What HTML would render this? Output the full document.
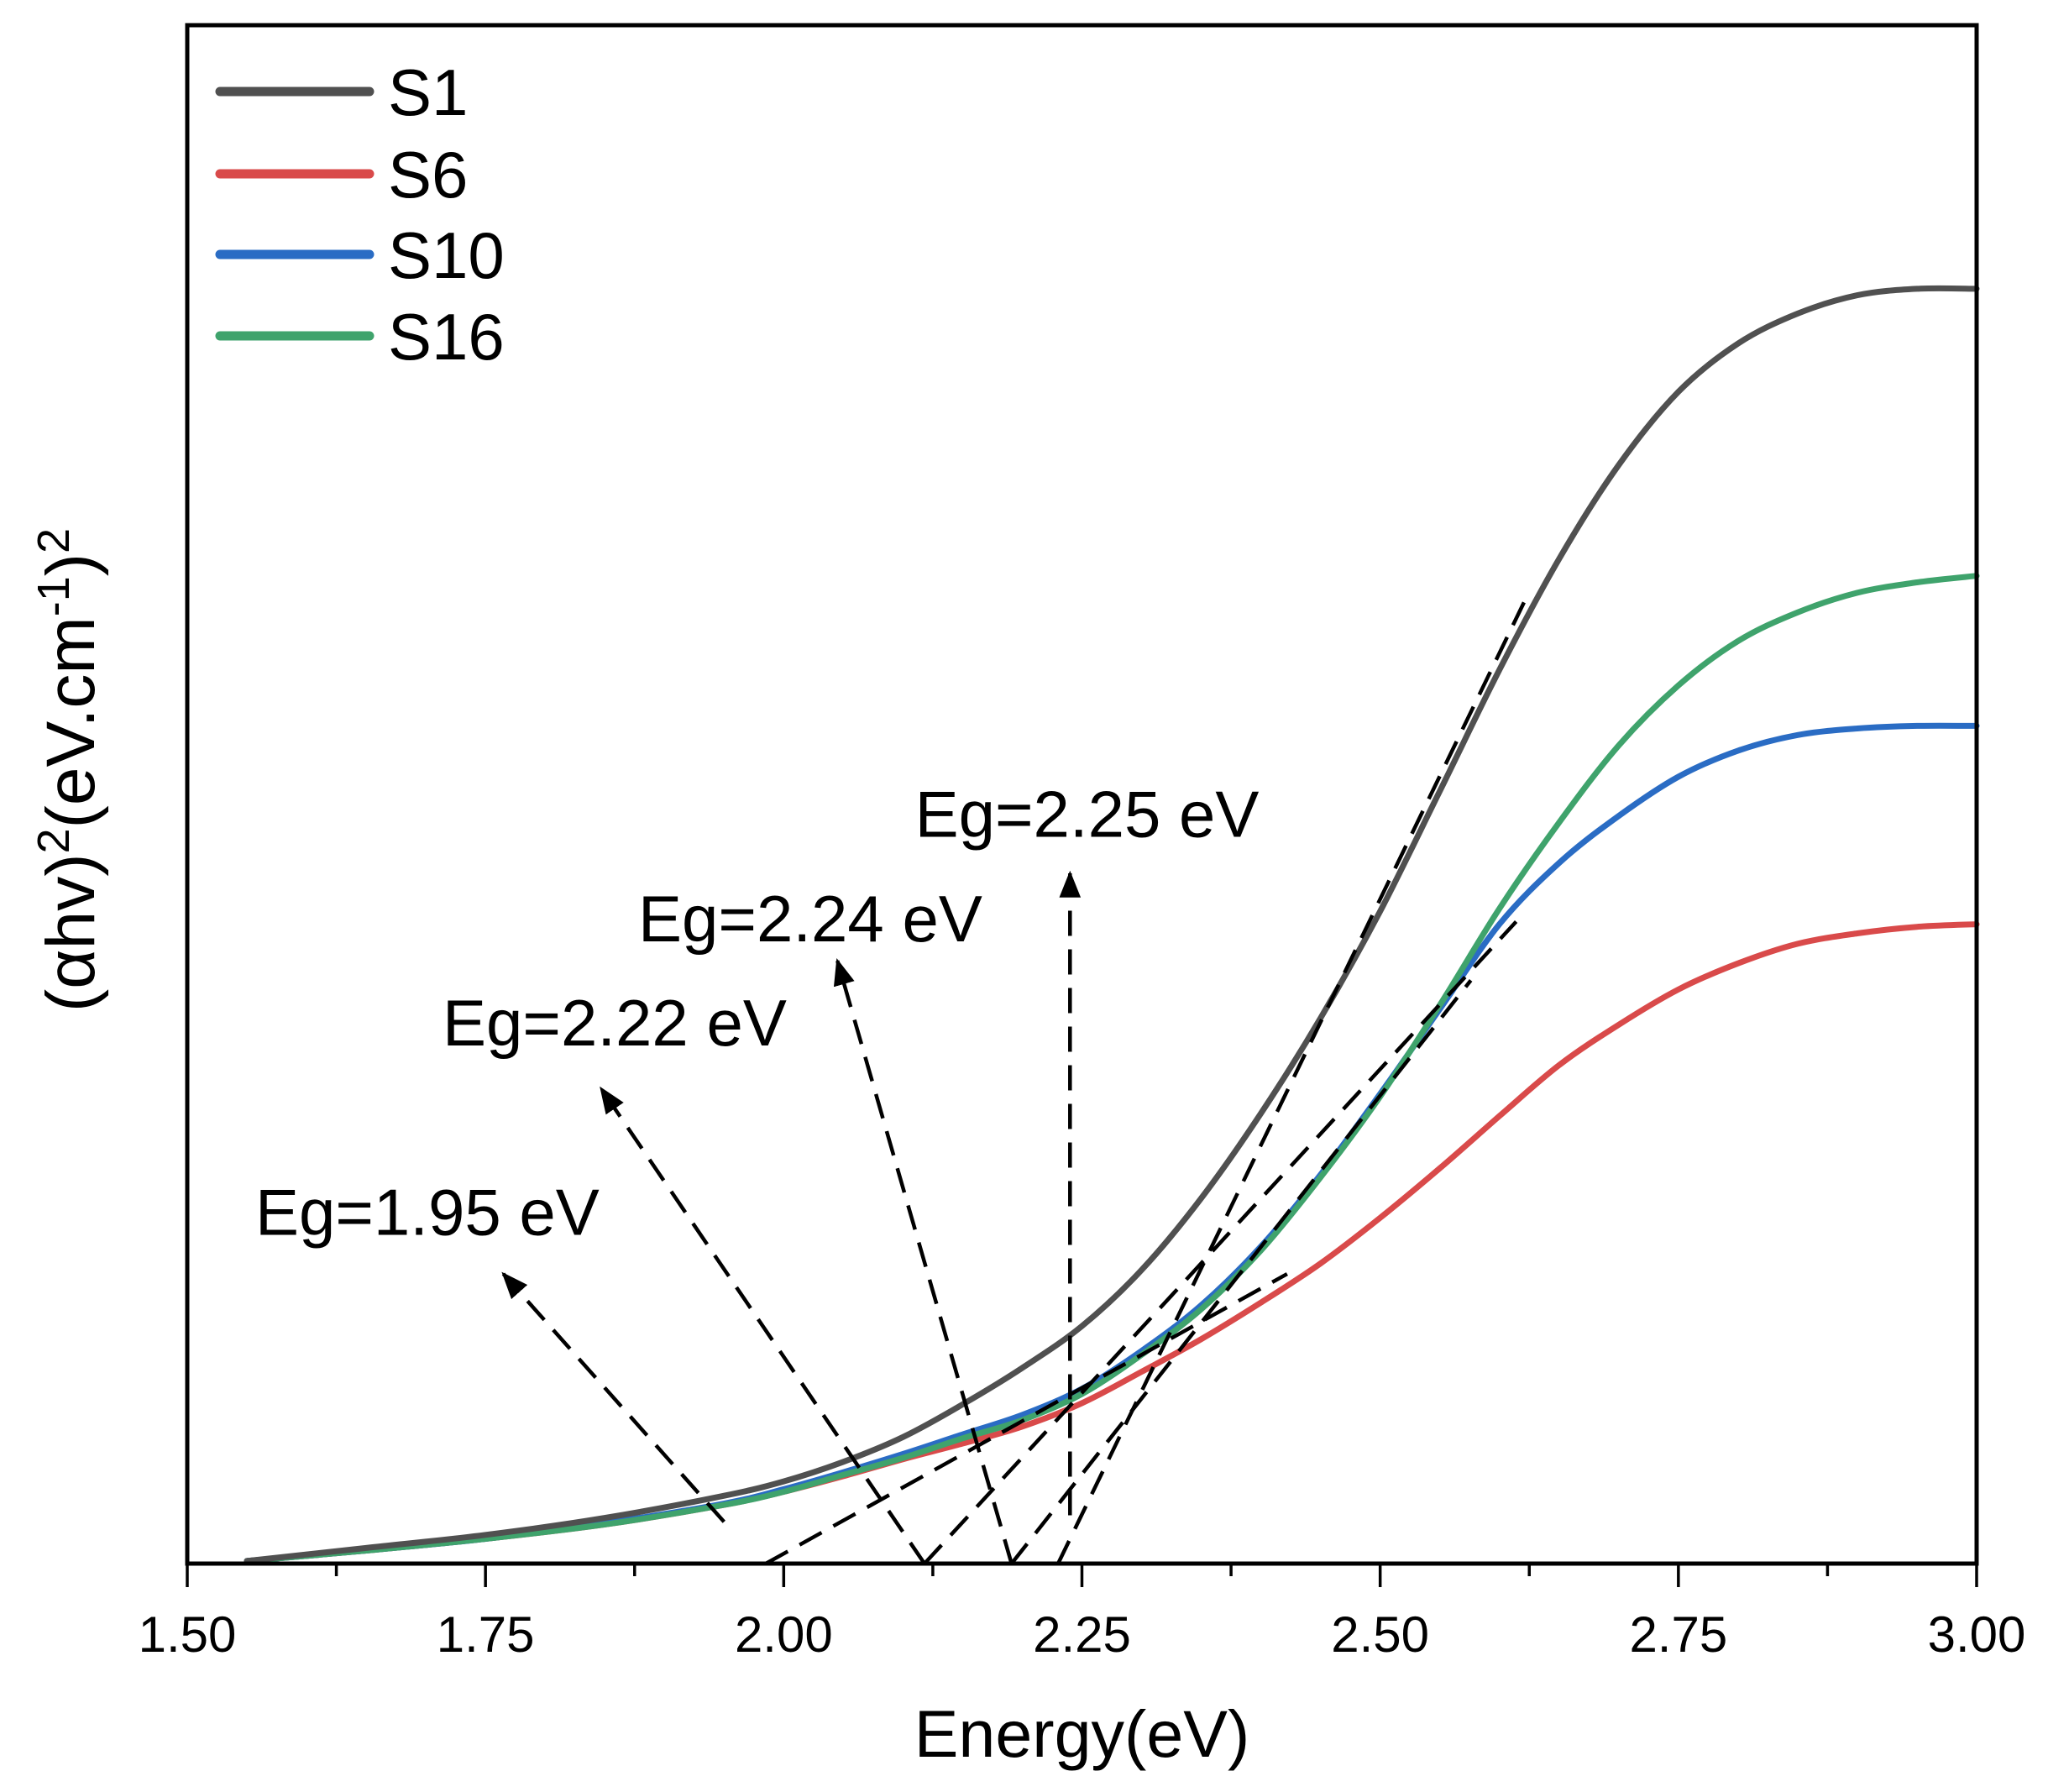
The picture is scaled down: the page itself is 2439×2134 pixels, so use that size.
<!DOCTYPE html>
<html><head><meta charset="utf-8"><style>
html,body{margin:0;padding:0;background:#fff;}
svg{display:block;font-family:"Liberation Sans",Arial,sans-serif;}
</style></head><body>
<svg id="chart" width="2439" height="2134" viewBox="0 0 2439 2134" xmlns="http://www.w3.org/2000/svg"></svg>
<script>
const energies=[1.55,1.65,1.75,1.85,1.95,2.0,2.05,2.1,2.15,2.2,2.25,2.3,2.35,2.4,2.45,2.5,2.55,2.6,2.65,2.7,2.75,2.8,2.85,2.9,2.95,3.0];
const s1=[2,12,22,35,52,63,78,97,122,150,182,225,280,345,418,500,592,685,770,842,898,935,958,972,977,977];
const s6=[2,10,19,30,45,55,67,80,92,105,123,147,172,200,230,265,303,343,382,413,440,460,475,483,488,490];
const s10=[2,10,19,31,46,57,70,84,99,114,134,163,198,243,298,360,425,490,537,573,603,623,635,640,642,642];
const s16=[2,10,19,30,45,55,68,81,96,110,130,160,195,240,296,358,428,502,568,627,673,707,729,744,752,757];
const seriesNames=["S1","S6","S10","S16"];
const seriesColors=["#505050","#d94a4a","#2a6cc4","#3fa36c"];
const xTicks=[1.5,1.75,2.0,2.25,2.5,2.75,3.0];
const xTickLabels=["1.50","1.75","2.00","2.25","2.50","2.75","3.00"];
const tangentLines=[[1.985,0,2.422,222],[2.118,0,2.614,492],[2.191,0,2.576,447],[2.23,0,2.625,745]];
const arrowLines=[[1.95,32,1.765,222],[2.118,0,1.847,364],[2.191,0,2.045,462],[2.24,37,2.24,529]];
const egLabels=["Eg=1.95 eV","Eg=2.22 eV","Eg=2.24 eV","Eg=2.25 eV"];
const egLabelPos=[[1.557,252],[1.714,397],[1.878,477],[2.11,557]];

const L=223,R=2354,T=30,B=1862,YMAX=1179;
const xs=e=>L+(e-1.5)/1.5*(R-L);
const ys=v=>B-v/YMAX*(B-T);
const svg=document.getElementById('chart');
const NS="http://www.w3.org/2000/svg";
function mk(tag,attrs,parent){const el=document.createElementNS(NS,tag);for(const k in attrs)el.setAttribute(k,attrs[k]);(parent||svg).appendChild(el);return el;}
function smooth(pts){
  let d='M'+pts[0][0].toFixed(1)+','+pts[0][1].toFixed(1);
  for(let i=0;i<pts.length-1;i++){
    const p0=pts[i-1]||pts[i],p1=pts[i],p2=pts[i+1],p3=pts[i+2]||p2;
    const c1=[p1[0]+(p2[0]-p0[0])/6,p1[1]+(p2[1]-p0[1])/6];
    const c2=[p2[0]-(p3[0]-p1[0])/6,p2[1]-(p3[1]-p1[1])/6];
    d+=' C'+c1[0].toFixed(1)+','+c1[1].toFixed(1)+' '+c2[0].toFixed(1)+','+c2[1].toFixed(1)+' '+p2[0].toFixed(1)+','+p2[1].toFixed(1);
  }
  return d;
}
const data=[s1,s6,s10,s16];
[1,2,3,0].forEach(i=>{
  const pts=data[i].map((v,j)=>[xs(energies[j]),ys(v)]);
  const p=mk('path',{d:smooth(pts),fill:'none',stroke:seriesColors[i],'stroke-width':7,'stroke-linejoin':'round','stroke-linecap':'round'});
  
  
});
tangentLines.forEach((t,i)=>{
  const l=mk('line',{x1:xs(t[0]),y1:ys(t[1]),x2:xs(t[2]),y2:ys(t[3]),stroke:'#000','stroke-width':4.5,'stroke-dasharray':'30,16'});
  
  
});
mk('defs',{}).innerHTML='<marker id="ah" markerWidth="32" markerHeight="26" refX="9" refY="4" orient="auto" markerUnits="userSpaceOnUse" viewBox="0 0 10 8"><path d="M0,0 L10,4 L0,8 Z" fill="#000"/></marker>';
arrowLines.forEach((a,i)=>{
  const l=mk('line',{x1:xs(a[0]),y1:ys(a[1]),x2:xs(a[2]),y2:ys(a[3]),stroke:'#000','stroke-width':4.5,'stroke-dasharray':'30,16','marker-end':'url(#ah)'});
  
  
});
egLabels.forEach((t,i)=>{
  const tx=mk('text',{x:xs(egLabelPos[i][0]),y:ys(egLabelPos[i][1]),'font-size':78,fill:'#000'});
  tx.textContent=t;
  
  
});
const fr=mk('rect',{x:L,y:T,width:R-L,height:B-T,fill:'none',stroke:'#000','stroke-width':5});


for(let k=0;k<=12;k++){
  const e=1.5+k*0.125;const major=k%2===0;
  const tk=mk('line',{x1:xs(e),y1:B,x2:xs(e),y2:B+(major?28:15),stroke:'#000','stroke-width':3.5});
  
  
}
xTicks.forEach((e,i)=>{
  const tx=mk('text',{x:xs(e),y:1967,'font-size':60,'text-anchor':'middle',fill:'#000'});
  tx.textContent=xTickLabels[i];
  
  
});
const xt=mk('text',{x:(L+R)/2,y:2092,'font-size':79,'text-anchor':'middle',fill:'#000'});
xt.textContent='Energy(eV)';


const yt=mk('text',{x:0,y:0,'font-size':82,'text-anchor':'middle',fill:'#000',transform:'translate(112,917) rotate(-90)'});
yt.innerHTML='(αhv)<tspan dy="-30" font-size="54">2</tspan><tspan dy="30">(eV.cm</tspan><tspan dy="-30" font-size="54">-1</tspan><tspan dy="30">)</tspan><tspan dy="-30" font-size="54">2</tspan>';


const lg=mk('g',{});


const legY=[109,207,303,400];
seriesNames.forEach((n,i)=>{
  const g=mk('g',{},lg);
  
  
  mk('line',{x1:262,y1:legY[i],x2:440,y2:legY[i],stroke:seriesColors[i],'stroke-width':11,'stroke-linecap':'round'},g);
  const t=mk('text',{x:462,y:legY[i]+28,'font-size':78,fill:'#000'},g);
  t.textContent=n;
});
</script>
</body></html>
